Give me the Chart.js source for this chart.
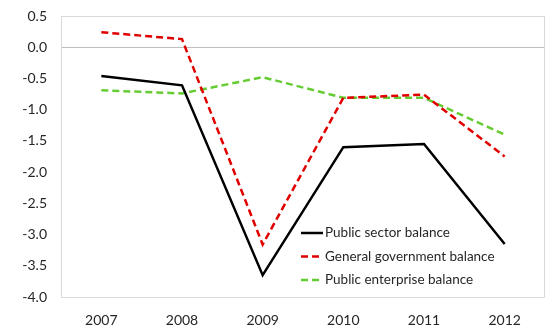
<!DOCTYPE html>
<html>
<head>
<meta charset="utf-8">
<style>
  html, body { margin: 0; padding: 0; background: #fff; }
  #wrap { width: 545px; height: 326px; position: relative; }
</style>
</head>
<body>
<div id="wrap"><canvas id="balance-canvas"></canvas></div>
<script src="https://cdn.jsdelivr.net/npm/chart.js@4.4.1/dist/chart.umd.min.js"></script>
<script>
  // Data (% of GDP)
  let years = ['2007', '2008', '2009', '2010', '2011', '2012'];
  let public_sector = [-0.46, -0.61, -3.65, -1.60, -1.55, -3.15];
  let general_gov = [0.24, 0.13, -3.16, -0.81, -0.76, -1.75];
  let public_enterprise = [-0.69, -0.74, -0.48, -0.81, -0.81, -1.40];

  let font_family = "Lato, 'Liberation Sans', sans-serif";

  // Frame around plot area + legend drawn inside it (lower right)
  let frame_plugin = {
    id: 'frame',
    beforeDatasetsDraw(chart) {
      let ctx = chart.ctx;
      let a = chart.chartArea;
      ctx.save();
      ctx.strokeStyle = '#d9d9d9';
      ctx.lineWidth = 1;
      ctx.strokeRect(a.left + 0.5, a.top + 0.5, a.right - a.left - 1, a.bottom - a.top);
      ctx.restore();
    },
    afterDraw(chart) {
      let ctx = chart.ctx;
      let a = chart.chartArea;
      let x0 = a.left + 240;
      let y0 = a.top + 217;
      ctx.save();
      ctx.font = '13.5px ' + font_family;
      ctx.textBaseline = 'middle';
      chart.data.datasets.forEach(function(ds, i) {
        let y = y0 + i * 23.5;
        ctx.beginPath();
        ctx.strokeStyle = ds.borderColor;
        ctx.lineWidth = ds.borderWidth;
        ctx.setLineDash(ds.borderDash || []);
        ctx.moveTo(x0, y);
        ctx.lineTo(x0 + 22, y);
        ctx.stroke();
        ctx.setLineDash([]);
        ctx.fillStyle = '#262626';
        ctx.fillText(ds.label, x0 + 24, y);
      });
      ctx.restore();
    }
  };

  let ctx = document.getElementById('balance-canvas').getContext('2d');
  let balance_chart = new Chart(ctx, {
    type: 'line',
    data: {
      labels: years,
      datasets: [
        {
          label: 'Public sector balance',
          data: public_sector,
          borderColor: '#000000',
          borderWidth: 2.5,
          pointRadius: 0,
          fill: false,
          tension: 0
        },
        {
          label: 'General government balance',
          data: general_gov,
          borderColor: '#e00000',
          borderWidth: 2.5,
          borderDash: [7, 4],
          pointRadius: 0,
          fill: false,
          tension: 0
        },
        {
          label: 'Public enterprise balance',
          data: public_enterprise,
          borderColor: '#66cc33',
          borderWidth: 2.5,
          borderDash: [7, 4],
          pointRadius: 0,
          fill: false,
          tension: 0
        }
      ]
    },
    options: {
      responsive: true,
      maintainAspectRatio: false,
      animation: false,
      layout: { padding: { top: 16, right: 0, left: 0, bottom: 0 } },
      plugins: {
        legend: { display: false },
        tooltip: { enabled: false }
      },
      scales: {
        x: {
          offset: true,
          grid: { display: false, drawTicks: false },
          border: { display: false },
          ticks: {
            color: '#262626',
            font: { family: font_family, size: 14 },
            padding: 15,
            maxRotation: 0
          },
          afterFit(scale) {
            scale.height = 29;
            scale.paddingLeft = 0;
            scale.paddingRight = 0;
          }
        },
        y: {
          min: -4,
          max: 0.5,
          grid: {
            drawTicks: false,
            color: function(c) { return c.tick && c.tick.value === 0 ? '#bfbfbf' : 'rgba(0,0,0,0)'; },
            lineWidth: 1
          },
          border: { display: false },
          ticks: {
            stepSize: 0.5,
            color: '#262626',
            font: { family: font_family, size: 14 },
            padding: 14,
            callback: function(v) { return v.toFixed(1); }
          },
          afterFit(scale) {
            scale.width = 61;
            scale.paddingTop = 0;
            scale.paddingBottom = 0;
          }
        }
      }
    },
    plugins: [frame_plugin]
  });
</script>
</body>
</html>
